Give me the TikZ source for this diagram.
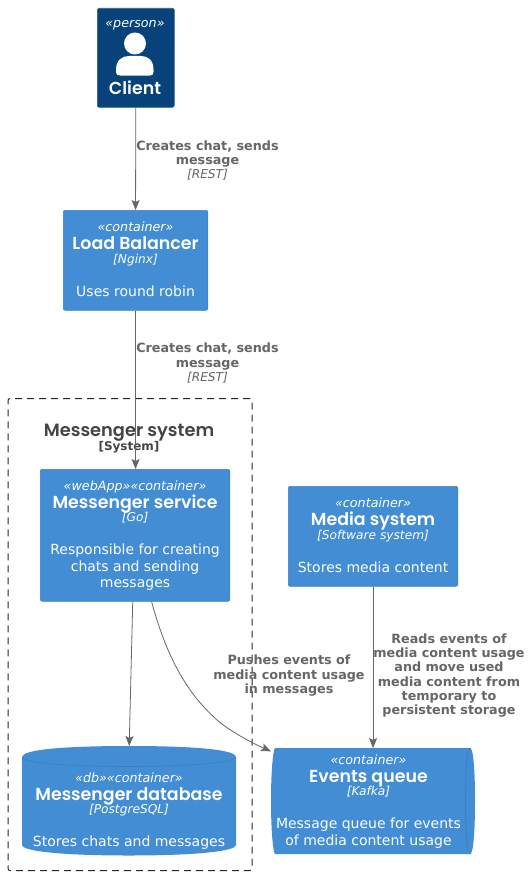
\documentclass[tikz,border=0pt]{standalone}
\usepackage{fontspec}
\setmainfont{DejaVu Sans}
\newfontfamily\ttlfont{Poppins SemiBold}
\usetikzlibrary{arrows.meta}
\definecolor{personbg}{HTML}{08427B}
\definecolor{contbg}{HTML}{438DD5}
\definecolor{contline}{HTML}{3C7FC0}
\definecolor{linkc}{HTML}{666666}
\definecolor{bound}{HTML}{444444}
% every text line carries a strut, so that the line pitch is exact
\newcommand{\lstrut}[1]{\leavevmode\vrule width 0pt height .75\dimexpr#1\relax depth .25\dimexpr#1\relax\relax}
\newcommand{\tightlines}{\baselineskip 0pt\relax\lineskip 0pt\relax\lineskiplimit 0pt\relax}
\newcommand{\stp}[1]{\lstrut{15pt}{\fontsize{12.7}{15}\selectfont\itshape #1}}
\newcommand{\ttl}[1]{\lstrut{16.5pt}\smash{\raisebox{-2pt}{\fontsize{17.4}{19}\selectfont\ttlfont #1}}}
\newcommand{\tch}[1]{\lstrut{15pt}{\fontsize{12.2}{15}\selectfont\itshape #1}}
\newcommand{\dsc}[1]{\lstrut{16.5pt}{\fontsize{14}{16.5}\selectfont #1}}
\newcommand{\gap}{\lstrut{17pt}}
\newcommand{\lbl}[1]{\lstrut{14.3pt}{\fontsize{12.75}{14.5}\selectfont\bfseries #1}}
\newcommand{\lit}[1]{\lstrut{14.3pt}{\fontsize{12.2}{14.5}\selectfont\itshape #1}}
\tikzset{
  x=1pt,y=-1pt,
  tight/.style={font=\tightlines},
  boxnode/.style={tight,fill=contbg,draw=contline,line width=.6pt,rounded corners=2pt,text=white,align=center,inner sep=0pt,anchor=north west},
  shapetext/.style={tight,text=white,align=center,inner sep=0pt},
  link/.style={draw=linkc,line width=.8pt,-{Stealth[length=10pt,width=8pt,inset=2pt]}},
  linklabel/.style={tight,text=linkc,align=center,inner sep=0pt},
}
\begin{document}
\begin{tikzpicture}
\useasboundingbox (0,0) rectangle (531,875);
% boundary
\node[draw=black!85,dash pattern=on 7pt off 5pt,line width=1pt,rounded corners=2pt,minimum width=244pt,minimum height=472pt,inner sep=0pt,anchor=north west] (sys) at (7.5,398) {};
\node[tight,text=bound,align=center,inner sep=0pt] (systitle) at (129,437.75) {\lstrut{18pt}\smash{\raisebox{-2pt}{\fontsize{17.8}{19}\selectfont\ttlfont Messenger system}}\\\lstrut{15pt}{\fontsize{12}{15}\selectfont\bfseries [System]}};
% person
\node[boxnode,fill=personbg,draw=personbg!85!white,minimum width=77pt,minimum height=99pt] (client) at (97,8) {};
\node[shapetext] (clientst) at (135,24) {\stp{«person»}};
\fill[white] (135,43.5) circle (11);
\fill[white] (116,70) .. controls (116,60) and (122,56) .. (129,56) -- (141,56) .. controls (148,56) and (153.5,60) .. (153.5,70) -- (153.5,72) .. controls (153.5,74.5) and (152,75.5) .. (150,75.5) -- (120,75.5) .. controls (117.5,75.5) and (116,74.5) .. (116,72) -- cycle;
\node[shapetext] (clientname) at (135,88) {\ttl{Client}};
% containers
\node[boxnode,minimum width=144.5pt,minimum height=100pt] (lb) at (63,210) {\stp{«container»}\\\ttl{Load Balancer}\\\tch{[Nginx]}\\\gap\\\dsc{Uses round robin}};
\node[boxnode,minimum width=189.5pt,minimum height=132pt] (ms) at (40,469) {\stp{«webApp»«container»}\\\ttl{Messenger service}\\\tch{[Go]}\\\gap\\\dsc{Responsible for creating}\\\dsc{chats and sending}\\\dsc{messages}};
\node[boxnode,minimum width=169.5pt,minimum height=100pt] (media) at (288,486) {\stp{«container»}\\\ttl{Media system}\\\tch{[Software system]}\\\gap\\\dsc{Stores media content}};
% database shape
\path[fill=contbg] (22,757) .. controls (22,750) and (60,746) .. (129,746) .. controls (198,746) and (236,750) .. (236,757) -- (236,845) .. controls (236,851) and (198,855.5) .. (129,855.5) .. controls (60,855.5) and (22,851) .. (22,845) -- cycle;
\draw[contline,line width=.6pt] (22,757) .. controls (22,762) and (60,766.5) .. (129,766.5) .. controls (198,766.5) and (236,762) .. (236,757);
\node[minimum width=214pt,minimum height=110pt,inner sep=0pt,anchor=north west] (db) at (22,746) {};
\node[shapetext] (dbtext) at (129,810.75) {\stp{«db»«container»}\\\ttl{Messenger database}\\\tch{[PostgreSQL]}\\\gap\\\dsc{Stores chats and messages}};
% queue shape
\path[fill=contbg] (275,748) -- (470.5,748) .. controls (473.5,750) and (475,772) .. (475,801) .. controls (475,830) and (473.5,852) .. (470.5,854) -- (275,854) .. controls (273,852) and (271,830) .. (271,801) .. controls (271,772) and (273,750) .. (275,748) -- cycle;
\draw[contline,line width=.6pt] (470.5,748) .. controls (466.5,750) and (465.5,772) .. (465.5,801) .. controls (465.5,830) and (466.5,852) .. (470.5,854);
\node[minimum width=204pt,minimum height=106pt,inner sep=0pt,anchor=north west] (queue) at (271,748) {};
\node[shapetext] (queuetext) at (368.5,801) {\stp{«container»}\\\ttl{Events queue}\\\tch{[Kafka]}\\\gap\\\dsc{Message queue for events}\\\dsc{of media content usage}};
% connectors
\draw[link] (client.south) -- (lb.north);
\draw[link] (lb.south) -- (ms.north -| lb.south);
\draw[link] (ms.-92) -- (db.north);
\draw[link] (ms.-76) .. controls (170,670) and (195,700) .. (217,720) .. controls (230,731) and (250,742) .. (queue.154.7);
\draw[link] (media.south) -- (media.south |- queue.north);
% labels
\node[linklabel] (l1) at (207.5,161) {\lbl{Creates chat, sends}\\\lbl{message}\\\lit{[REST]}};
\node[linklabel] (l2) at (207.5,363.5) {\lbl{Creates chat, sends}\\\lbl{message}\\\lit{[REST]}};
\node[linklabel] (l3) at (289,675.5) {\lbl{Pushes events of}\\\lbl{media content usage}\\\lbl{in messages}};
\node[linklabel] (l4) at (449,675.5) {\lbl{Reads events of}\\\lbl{media content usage}\\\lbl{and move used}\\\lbl{media content from}\\\lbl{temporary to}\\\lbl{persistent storage}};
\end{tikzpicture}
\end{document}
